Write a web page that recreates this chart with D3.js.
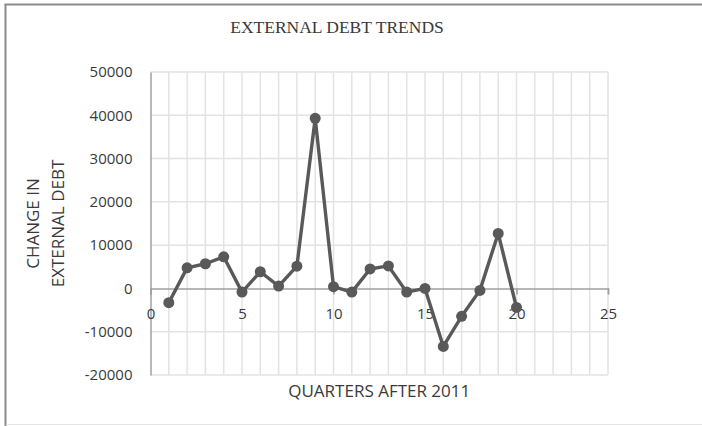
<!DOCTYPE html>
<html>
<head>
<meta charset="utf-8">
<script src="https://cdn.jsdelivr.net/npm/d3@7"></script>
<style>
  html, body { margin: 0; padding: 0; background: #fff; }
  svg { display: block; }
</style>
</head>
<body>
<svg id="chart" width="702" height="426"></svg>
<script>
// ---- data ----
const quarters = [1, 2, 3, 4, 5, 6, 7, 8, 9, 10, 11, 12, 13, 14, 15, 16, 17, 18, 19, 20];
const debtChange = [-3300, 4750, 5700, 7300, -850, 3850, 550, 5150, 39300, 400,
                    -850, 4500, 5200, -850, 0, -13400, -6450, -450, 12700, -4400];
const xTicks = [0, 5, 10, 15, 20, 25];
const yTicks = [-20000, -10000, 0, 10000, 20000, 30000, 40000, 50000];
const titleText = "EXTERNAL DEBT TRENDS";
const xTitle = "QUARTERS AFTER 2011";
const yTitleLines = ["CHANGE IN", "EXTERNAL DEBT"];

const svg = d3.select("#chart");
const W = 702, H = 426;
const plot = { left: 150.5, right: 608, top: 72, bottom: 375 };

const x = d3.scaleLinear().domain([0, 25]).range([plot.left, plot.right]);
const y = d3.scaleLinear().domain([-20000, 50000]).range([plot.bottom, plot.top]);

const textColor = "#3a3a3a";
const sans = "'Open Sans', sans-serif";
const fmt = d => String(d); // plain hyphen-minus like the reference

// frame
svg.append("line").attr("x1", 5.5).attr("x2", 5.5).attr("y1", 4).attr("y2", 426)
  .attr("stroke", "#8c8c8c").attr("stroke-width", 2);
svg.append("line").attr("x1", 4.5).attr("x2", W).attr("y1", 4.5).attr("y2", 4.5)
  .attr("stroke", "#8c8c8c").attr("stroke-width", 2);
svg.append("line").attr("x1", 6).attr("x2", W).attr("y1", 424.5).attr("y2", 424.5)
  .attr("stroke", "#e4e4e4").attr("stroke-width", 1);

// vertical gridlines (every unit)
const gridX = d3.range(1, 26);
svg.append("g").selectAll("line").data(gridX).join("line")
  .attr("x1", d => x(d)).attr("x2", d => x(d))
  .attr("y1", plot.top).attr("y2", plot.bottom)
  .attr("stroke", "#e3e3e3").attr("stroke-width", 1.5);

// horizontal gridlines
svg.append("g").selectAll("line").data(yTicks.filter(d => d !== 0)).join("line")
  .attr("x1", plot.left).attr("x2", plot.right)
  .attr("y1", d => y(d)).attr("y2", d => y(d))
  .attr("stroke", "#e3e3e3").attr("stroke-width", 1.5);

// y axis (left line + labels)
const yAxis = d3.axisLeft(y).tickValues(yTicks).tickSize(0).tickPadding(18)
  .tickFormat(fmt);
const yg = svg.append("g").attr("transform", `translate(${plot.left},0)`).call(yAxis);
yg.select(".domain").attr("stroke", "#a0a0a0").attr("stroke-width", 1.5);
yg.selectAll("text").attr("font-family", sans).attr("font-size", 15)
  .attr("fill", textColor);

// x axis at y = 0
const xAxis = d3.axisBottom(x).tickValues(xTicks).tickSize(6).tickPadding(14)
  .tickFormat(fmt);
const xg = svg.append("g").attr("transform", `translate(0,${y(0)})`).call(xAxis);
xg.select(".domain").attr("stroke", "#a0a0a0").attr("stroke-width", 1.5);
xg.selectAll(".tick line").attr("stroke", "#a0a0a0").attr("stroke-width", 1.5);
xg.selectAll("text").attr("font-family", sans).attr("font-size", 15)
  .attr("fill", textColor);

// line
const line = d3.line().x((d, i) => x(quarters[i])).y(d => y(d));
svg.append("path").datum(debtChange)
  .attr("d", line).attr("fill", "none")
  .attr("stroke", "#595959").attr("stroke-width", 3.4)
  .attr("stroke-linejoin", "round");

svg.append("g").selectAll("circle").data(debtChange).join("circle")
  .attr("cx", (d, i) => x(quarters[i])).attr("cy", d => y(d))
  .attr("r", 5.5).attr("fill", "#595959");

// title
svg.append("text").attr("x", 337).attr("y", 32.5).attr("text-anchor", "middle")
  .attr("font-family", "'Liberation Serif', 'Times New Roman', serif")
  .attr("font-size", 17.5).attr("fill", textColor).text(titleText);

// x title
svg.append("text").attr("x", (plot.left + plot.right) / 2).attr("y", 397)
  .attr("text-anchor", "middle").attr("font-family", sans).attr("font-size", 17)
  .attr("fill", textColor).text(xTitle);

// y title
const cy = (plot.top + plot.bottom) / 2;
const yt = svg.append("text").attr("transform", `translate(39,${cy}) rotate(-90)`)
  .attr("text-anchor", "middle").attr("font-family", sans).attr("font-size", 17)
  .attr("fill", textColor);
yTitleLines.forEach((t, i) => {
  yt.append("tspan").attr("x", 0).attr("y", i * 25).text(t);
});
</script>
</body>
</html>
